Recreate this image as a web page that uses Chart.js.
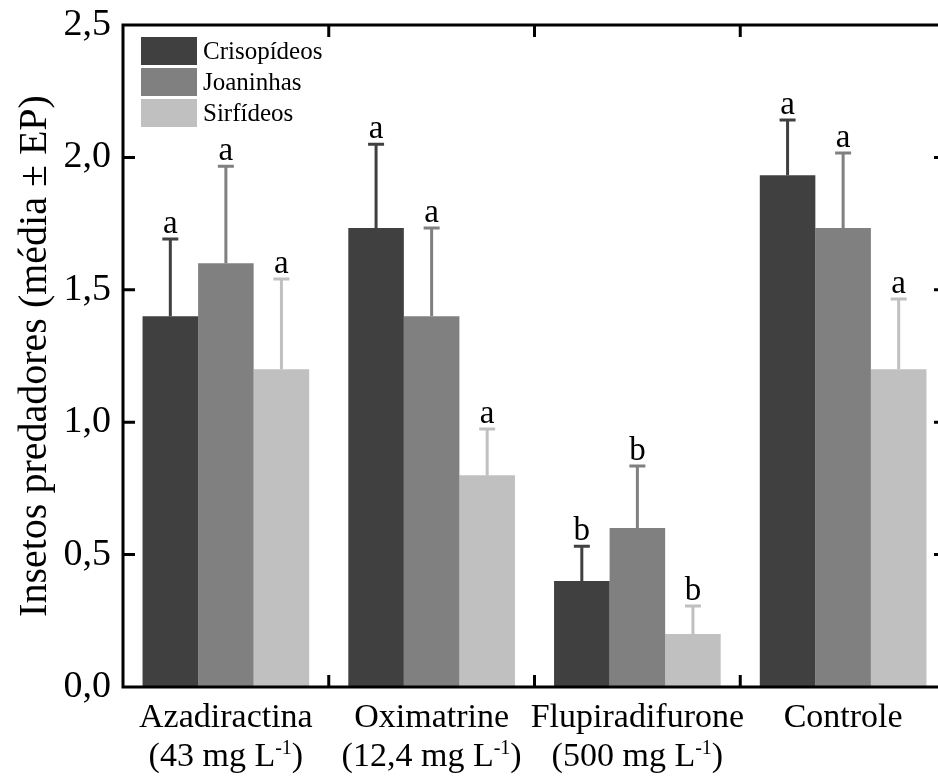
<!DOCTYPE html>
<html><head><meta charset="utf-8">
<script src="https://cdn.jsdelivr.net/npm/chart.js@4"></script>
<style>html,body{margin:0;padding:0;background:#fff;overflow:hidden;width:938px;height:778px}canvas{display:block}</style>
</head><body>
<canvas id="c" width="946" height="778"></canvas>
<script>
const categories = ['Azadiractina', 'Oximatrine', 'Flupiradifurone', 'Controle'];
const doseLabels = ['(43 mg L', '(12,4 mg L', '(500 mg L', ''];
const seriesNames = ['Crisopídeos', 'Joaninhas', 'Sirfídeos'];
const crisopideos = [1.4, 1.733, 0.4, 1.933];
const joaninhas = [1.6, 1.4, 0.6, 1.733];
const sirfideos = [1.2, 0.8, 0.2, 1.2];
const crisopideosEP = [0.292, 0.317, 0.132, 0.208];
const joaninhasEP = [0.367, 0.333, 0.235, 0.284];
const sirfideosEP = [0.341, 0.174, 0.106, 0.265];
const crisopideosLetters = ['a', 'a', 'b', 'a'];
const joaninhasLetters = ['a', 'a', 'b', 'a'];
const sirfideosLetters = ['a', 'a', 'b', 'a'];
const yTicks = [0, 0.5, 1.0, 1.5, 2.0, 2.5];

const colors = ['#404040', '#808080', '#c0c0c0'];
const SERIF = '"Liberation Serif", "Times New Roman", serif';

const errs = [crisopideosEP, joaninhasEP, sirfideosEP];
const letters = [crisopideosLetters, joaninhasLetters, sirfideosLetters];

const extras = {
  id: 'extras',
  afterDatasetsDraw(chart) {
    const ctx = chart.ctx;
    const y = chart.scales.y;
    const x = chart.scales.x;
    const ca = chart.chartArea;
    ctx.save();
    // error bars + letters
    chart.data.datasets.forEach((ds, di) => {
      const meta = chart.getDatasetMeta(di);
      meta.data.forEach((bar, i) => {
        const top = y.getPixelForValue(ds.data[i] + errs[di][i]);
        ctx.strokeStyle = colors[di];
        ctx.lineWidth = 3;
        ctx.beginPath();
        ctx.moveTo(bar.x, bar.y);
        ctx.lineTo(bar.x, top);
        ctx.moveTo(bar.x - 8, top);
        ctx.lineTo(bar.x + 8, top);
        ctx.stroke();
        ctx.fillStyle = '#000';
        ctx.font = '33px ' + SERIF;
        ctx.textAlign = 'center';
        ctx.textBaseline = 'alphabetic';
        ctx.fillText(letters[di][i], bar.x, top - 6);
      });
    });
    // frame
    ctx.strokeStyle = '#000';
    ctx.lineWidth = 3;
    ctx.beginPath();
    ctx.moveTo(ca.left, ca.top); ctx.lineTo(ca.right + 2, ca.top);
    ctx.moveTo(ca.left, ca.top - 1.5); ctx.lineTo(ca.left, ca.bottom + 1.5);
    ctx.moveTo(ca.left - 1.5, ca.bottom); ctx.lineTo(ca.right + 2, ca.bottom);
    ctx.moveTo(ca.right, ca.top); ctx.lineTo(ca.right, ca.bottom);
    ctx.stroke();
    // y ticks inward on both sides
    yTicks.forEach(v => {
      const py = y.getPixelForValue(v);
      if (v === 0 || v === 2.5) return;
      ctx.beginPath();
      ctx.moveTo(ca.left, py); ctx.lineTo(ca.left + 12, py);
      ctx.moveTo(ca.right, py); ctx.lineTo(ca.right - 12, py);
      ctx.stroke();
    });
    // x ticks at category boundaries (top and bottom)
    for (let i = 1; i < categories.length; i++) {
      const px = (x.getPixelForValue(i - 1) + x.getPixelForValue(i)) / 2;
      ctx.beginPath();
      ctx.moveTo(px, ca.bottom); ctx.lineTo(px, ca.bottom - 12);
      ctx.moveTo(px, ca.top); ctx.lineTo(px, ca.top + 12);
      ctx.stroke();
    }
    // x labels
    ctx.fillStyle = '#000';
    ctx.textBaseline = 'alphabetic';
    const F = '34px ' + SERIF, FS = '20px ' + SERIF;
    categories.forEach((c, i) => {
      const px = x.getPixelForValue(i);
      ctx.font = F;
      ctx.textAlign = 'center';
      ctx.fillText(c, px, ca.bottom + 40);
      if (doseLabels[i]) {
        ctx.font = F;
        const w1 = ctx.measureText(doseLabels[i]).width;
        ctx.font = FS;
        const w2 = ctx.measureText('-1').width;
        ctx.font = F;
        const w3 = ctx.measureText(')').width;
        let sx = px - (w1 + w2 + w3) / 2;
        const by = ca.bottom + 79;
        ctx.textAlign = 'left';
        ctx.fillText(doseLabels[i], sx, by);
        ctx.font = FS;
        ctx.fillText('-1', sx + w1, by - 12);
        ctx.font = F;
        ctx.fillText(')', sx + w1 + w2, by);
      }
    });
    // legend
    const lx = ca.left + 18, ly = ca.top + 12;
    seriesNames.forEach((n, i) => {
      const by = ly + i * 31;
      ctx.fillStyle = colors[i];
      ctx.fillRect(lx, by, 56, 28);
      ctx.fillStyle = '#000';
      ctx.font = '25px ' + SERIF;
      ctx.textAlign = 'left';
      ctx.textBaseline = 'middle';
      ctx.fillText(n, lx + 62, by + 15);
    });
    ctx.restore();
  }
};

new Chart(document.getElementById('c'), {
  type: 'bar',
  data: {
    labels: categories,
    datasets: [
      { label: seriesNames[0], data: crisopideos, backgroundColor: colors[0] },
      { label: seriesNames[1], data: joaninhas, backgroundColor: colors[1] },
      { label: seriesNames[2], data: sirfideos, backgroundColor: colors[2] }
    ]
  },
  options: {
    responsive: false,
    animation: false,
    layout: { padding: { top: 25, right: 0, left: 0, bottom: 0 } },
    datasets: { bar: { barPercentage: 1.0, categoryPercentage: 0.81, borderWidth: 0 } },
    plugins: { legend: { display: false }, tooltip: { enabled: false } },
    scales: {
      x: {
        grid: { display: false },
        border: { display: false },
        ticks: { display: false },
        afterFit(s) { s.height = 91; s.paddingLeft = 0; s.paddingRight = 0; }
      },
      y: {
        min: 0, max: 2.5,
        afterBuildTicks(s) { s.ticks = yTicks.map(v => ({ value: v })); },
        grid: { display: false, drawTicks: false },
        border: { display: false },
        ticks: {
          color: '#000',
          font: { family: SERIF, size: 38 },
          padding: 12,
          callback: v => v.toFixed(1).replace('.', ',')
        },
        title: {
          display: true,
          text: 'Insetos predadores (média ± EP)',
          color: '#000',
          font: { family: SERIF, size: 40 },
          padding: { top: 11, bottom: 0 }
        },
        afterFit(s) { s.width = 123; s.paddingTop = 0; s.paddingBottom = 0; }
      }
    }
  },
  plugins: [extras]
});
</script>
</body></html>
